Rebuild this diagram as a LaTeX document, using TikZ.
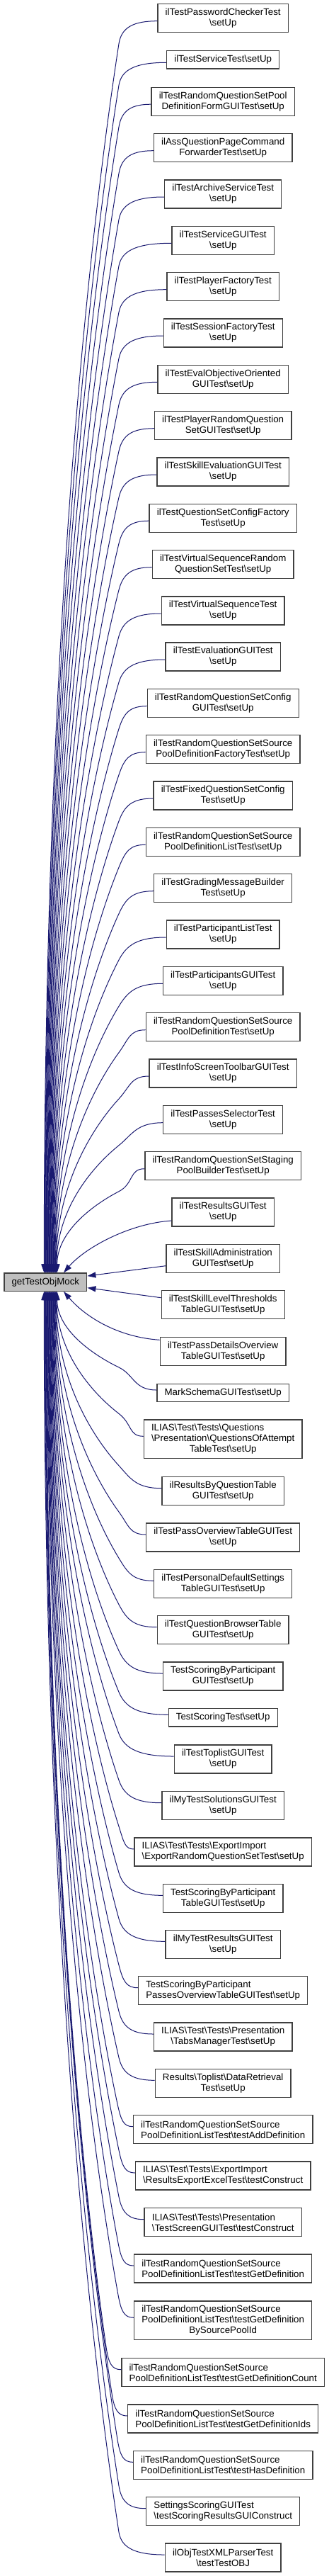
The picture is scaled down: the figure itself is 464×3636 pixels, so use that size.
\documentclass[tikz,border=0pt]{standalone}
\usepackage{fontspec}
\setmainfont{Liberation Sans}
\usepackage{xcolor}
\usepackage{tikz}
\usetikzlibrary{arrows.meta, calc}

\definecolor{edgeblue}{HTML}{191970}
\definecolor{boxline}{HTML}{404040}
\definecolor{mockgrey}{HTML}{BFBFBF}
\newcommand{\bksl}{\textbackslash}

\tikzset{
  func/.style={draw=boxline, line width=1pt, fill=white, inner xsep=8pt, inner ysep=2pt,
    align=center, minimum height=30pt, font=\fontsize{10}{11.25}\selectfont},
  oneline/.style={minimum height=19pt},
  threeline/.style={minimum height=41pt},
  lefttext/.style={align=left},
  caller/.style={edgeblue, line width=0.75pt, -{Triangle[length=9pt,width=6pt]}},
}

\begin{document}
\begin{tikzpicture}[x=0.75pt, y=-0.75pt]
\useasboundingbox (0,0) rectangle (464,3636);

% called function
\node[func, oneline, fill=mockgrey] (main) at (64.3,1809.7) {getTestObjMock};

% callers
\node[func] (n1) at (315.2,25.7) {ilTestPasswordCheckerTest\\\bksl setUp};
\node[func, oneline] (n2) at (315.2,84.3) {ilTestServiceTest\bksl setUp};
\node[func] (n3) at (315.2,143.2) {ilTestRandomQuestionSetPool\\DefinitionFormGUITest\bksl setUp};
\node[func] (n4) at (315.2,208.7) {ilAssQuestionPageCommand\\ForwarderTest\bksl setUp};
\node[func] (n5) at (315.2,274) {ilTestArchiveServiceTest\\\bksl setUp};
\node[func] (n6) at (315.2,339.3) {ilTestServiceGUITest\\\bksl setUp};
\node[func] (n7) at (315.2,404.7) {ilTestPlayerFactoryTest\\\bksl setUp};
\node[func] (n8) at (315.2,470) {ilTestSessionFactoryTest\\\bksl setUp};
\node[func] (n9) at (315.2,535.3) {ilTestEvalObjectiveOriented\\GUITest\bksl setUp};
\node[func] (n10) at (315.2,600.7) {ilTestPlayerRandomQuestion\\SetGUITest\bksl setUp};
\node[func] (n11) at (315.2,666) {ilTestSkillEvaluationGUITest\\\bksl setUp};
\node[func] (n12) at (315.2,731.2) {ilTestQuestionSetConfigFactory\\Test\bksl setUp};
\node[func] (n13) at (315.2,796.7) {ilTestVirtualSequenceRandom\\QuestionSetTest\bksl setUp};
\node[func] (n14) at (315.2,862) {ilTestVirtualSequenceTest\\\bksl setUp};
\node[func] (n15) at (315.2,927) {ilTestEvaluationGUITest\\\bksl setUp};
\node[func] (n16) at (315.2,992.7) {ilTestRandomQuestionSetConfig\\GUITest\bksl setUp};
\node[func] (n17) at (315.2,1057.7) {ilTestRandomQuestionSetSource\\PoolDefinitionFactoryTest\bksl setUp};
\node[func] (n18) at (315.2,1123) {ilTestFixedQuestionSetConfig\\Test\bksl setUp};
\node[func] (n19) at (315.2,1188.3) {ilTestRandomQuestionSetSource\\PoolDefinitionListTest\bksl setUp};
\node[func] (n20) at (315.2,1253.7) {ilTestGradingMessageBuilder\\Test\bksl setUp};
\node[func] (n21) at (315.2,1319) {ilTestParticipantListTest\\\bksl setUp};
\node[func] (n22) at (315.2,1384.3) {ilTestParticipantsGUITest\\\bksl setUp};
\node[func] (n23) at (315.2,1449.7) {ilTestRandomQuestionSetSource\\PoolDefinitionTest\bksl setUp};
\node[func] (n24) at (315.2,1515) {ilTestInfoScreenToolbarGUITest\\\bksl setUp};
\node[func] (n25) at (315.2,1580.7) {ilTestPassesSelectorTest\\\bksl setUp};
\node[func] (n26) at (315.2,1645.7) {ilTestRandomQuestionSetStaging\\PoolBuilderTest\bksl setUp};
\node[func] (n27) at (315.2,1711) {ilTestResultsGUITest\\\bksl setUp};
\node[func] (n28) at (315.2,1776.7) {ilTestSkillAdministration\\GUITest\bksl setUp};
\node[func] (n29) at (315.2,1841.7) {ilTestSkillLevelThresholds\\TableGUITest\bksl setUp};
\node[func] (n30) at (315.2,1907.3) {ilTestPassDetailsOverview\\TableGUITest\bksl setUp};
\node[func, oneline] (n31) at (315.2,1966) {MarkSchemaGUITest\bksl setUp};
\node[func, threeline] (n32) at (315.2,2031.3) {\begin{tabular}{@{}l@{}}ILIAS\bksl Test\bksl Tests\bksl Questions\\\bksl Presentation\bksl QuestionsOfAttempt\\\multicolumn{1}{@{}c@{}}{TableTest\bksl setUp}\end{tabular}};
\node[func] (n33) at (315.2,2104.7) {ilResultsByQuestionTable\\GUITest\bksl setUp};
\node[func] (n34) at (315.2,2170) {ilTestPassOverviewTableGUITest\\\bksl setUp};
\node[func] (n35) at (315.2,2235.3) {ilTestPersonalDefaultSettings\\TableGUITest\bksl setUp};
\node[func] (n36) at (315.2,2300.7) {ilTestQuestionBrowserTable\\GUITest\bksl setUp};
\node[func] (n37) at (315.2,2366) {TestScoringByParticipant\\GUITest\bksl setUp};
\node[func, oneline] (n38) at (315.2,2424.3) {TestScoringTest\bksl setUp};
\node[func] (n39) at (315.2,2483) {ilTestToplistGUITest\\\bksl setUp};
\node[func] (n40) at (315.2,2548.7) {ilMyTestSolutionsGUITest\\\bksl setUp};
\node[func, lefttext] (n41) at (315.2,2614) {ILIAS\bksl Test\bksl Tests\bksl ExportImport\\\bksl ExportRandomQuestionSetTest\bksl setUp};
\node[func] (n42) at (315.2,2679.3) {TestScoringByParticipant\\TableGUITest\bksl setUp};
\node[func] (n43) at (315.2,2744.3) {ilMyTestResultsGUITest\\\bksl setUp};
\node[func, lefttext] (n44) at (315.2,2809.7) {TestScoringByParticipant\\PassesOverviewTableGUITest\bksl setUp};
\node[func] (n45) at (315.2,2875) {ILIAS\bksl Test\bksl Tests\bksl Presentation\\\bksl TabsManagerTest\bksl setUp};
\node[func] (n46) at (315.2,2940.3) {Results\bksl Toplist\bksl DataRetrieval\\Test\bksl setUp};
\node[func, lefttext] (n47) at (315.2,3005.7) {ilTestRandomQuestionSetSource\\PoolDefinitionListTest\bksl testAddDefinition};
\node[func, lefttext] (n48) at (315.2,3071) {ILIAS\bksl Test\bksl Tests\bksl ExportImport\\\bksl ResultsExportExcelTest\bksl testConstruct};
\node[func, lefttext] (n49) at (315.2,3136.7) {ILIAS\bksl Test\bksl Tests\bksl Presentation\\\bksl TestScreenGUITest\bksl testConstruct};
\node[func, lefttext] (n50) at (315.2,3202) {ilTestRandomQuestionSetSource\\PoolDefinitionListTest\bksl testGetDefinition};
\node[func, threeline] (n51) at (315.2,3275.3) {\begin{tabular}{@{}l@{}}ilTestRandomQuestionSetSource\\PoolDefinitionListTest\bksl testGetDefinition\\\multicolumn{1}{@{}c@{}}{BySourcePoolId}\end{tabular}};
\node[func, lefttext] (n52) at (315.2,3348.7) {ilTestRandomQuestionSetSource\\PoolDefinitionListTest\bksl testGetDefinitionCount};
\node[func, lefttext] (n53) at (315.2,3414) {ilTestRandomQuestionSetSource\\PoolDefinitionListTest\bksl testGetDefinitionIds};
\node[func, lefttext] (n54) at (315.2,3479.3) {ilTestRandomQuestionSetSource\\PoolDefinitionListTest\bksl testHasDefinition};
\node[func, lefttext] (n55) at (315.2,3544.7) {SettingsScoringGUITest\\\bksl testScoringResultsGUIConstruct};
\node[func] (n56) at (315.2,3610) {ilObjTestXMLParserTest\\\bksl testTestOBJ};

% calls from above
\foreach \k in {1,...,26} {
  \coordinate (s) at ([yshift=-3pt]n\k.west);
  \coordinate (t) at ([xshift={(\k-1)*0.55pt-1.5pt}]main.north);
  \path (s) ++(0,32) coordinate (a);
  \coordinate (b) at (a -| 168,0);
  \path let \p1=(b), \p2=(t) in
    coordinate (p) at ({\x1-0.38*(\x1-\x2)},{\y1+0.15*(\y2-\y1)})
    coordinate (q) at (\x2,{\y2-0.52*(\y2-\y1)});
  \draw[caller] (s) .. controls ($(s)!0.6!(s -| b)$) and ($(b)!-18pt!(p)$) .. (b)
    .. controls (p) and (q) .. (t);
}
\draw[caller] ([yshift=-9pt]n27.west) .. controls +(-60,4) and +(30,-35) .. ([xshift=19.3pt]main.north);
\draw[caller] ([yshift=-7.5pt]n28.west) -- ([yshift=6.5pt]main.east);

% calls from below
\draw[caller] ([yshift=7.5pt]n29.west) -- ([yshift=-6pt]main.east);
\draw[caller] ([yshift=12pt]n30.west) .. controls +(-60,-4) and +(30,35) .. ([xshift=19.3pt]main.south);
\foreach \k/\bx in {31/168,32/168,33/168,34/168,35/168,36/168,37/168,38/168,39/168,40/168,
    41/168,42/168,43/168,44/168,45/168,46/168,47/166,48/168,49/168,50/167,51/167,
    52/150,53/158,54/166,55/168,56/168} {
  \coordinate (s) at ([yshift=3pt]n\k.west);
  \coordinate (t) at ([xshift={(56-\k)*0.55pt-1.5pt}]main.south);
  \path (s) ++(0,-32) coordinate (a);
  \coordinate (b) at (a -| \bx,0);
  \path let \p1=(b), \p2=(t) in
    coordinate (p) at ({\x1-0.38*(\x1-\x2)},{\y1+0.15*(\y2-\y1)})
    coordinate (q) at (\x2,{\y2-0.52*(\y2-\y1)});
  \draw[caller] (s) .. controls ($(s)!0.6!(s -| b)$) and ($(b)!-18pt!(p)$) .. (b)
    .. controls (p) and (q) .. (t);
}
\end{tikzpicture}
\end{document}
